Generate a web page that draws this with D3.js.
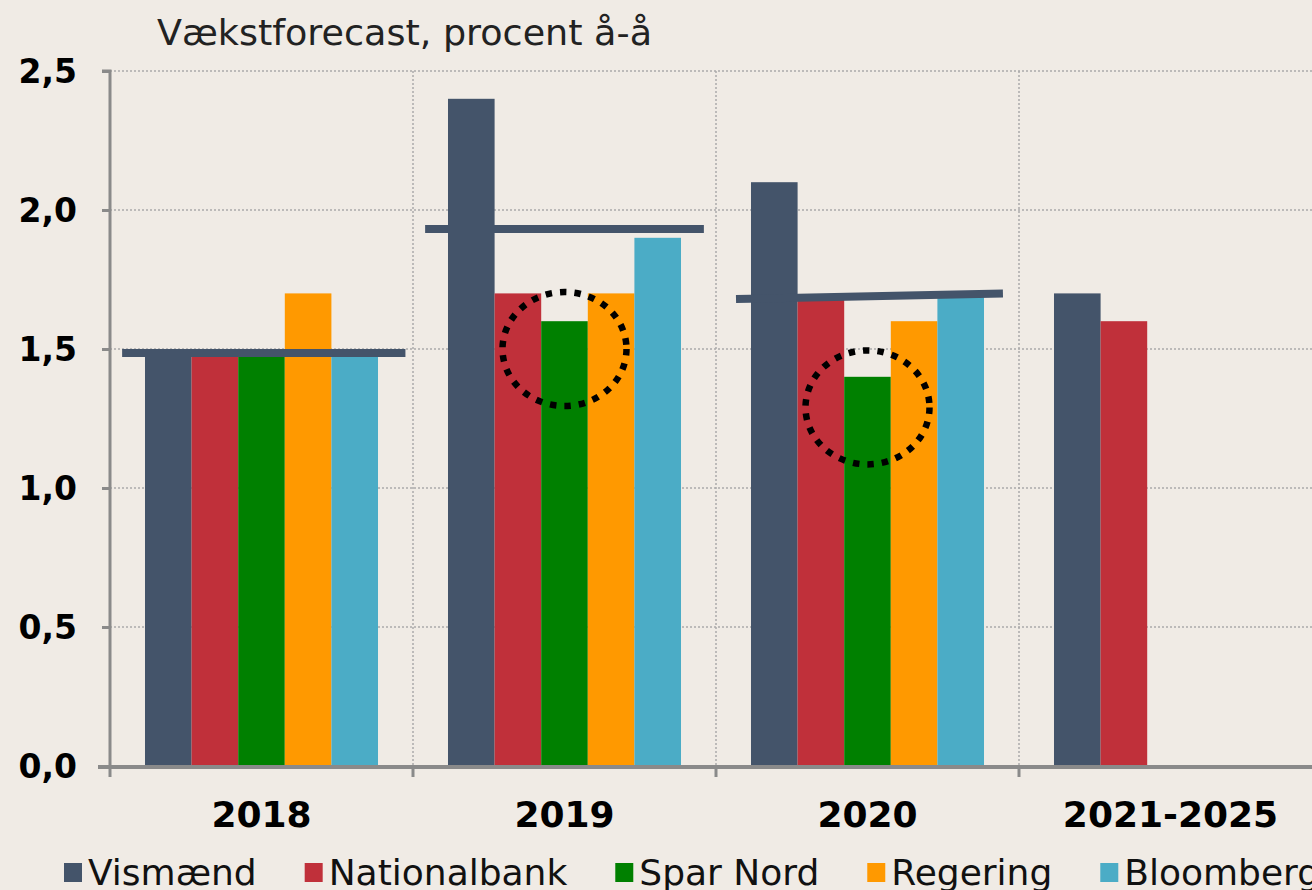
<!DOCTYPE html>
<html><head><meta charset="utf-8">
<script src="https://cdn.jsdelivr.net/npm/d3@7"></script>
<style>
html,body{margin:0;padding:0;background:#F0EBE5;}
svg{display:block;}
text{font-family:"DejaVu Sans",Verdana,sans-serif;}
</style></head>
<body>
<svg id="chart" width="1312" height="890"></svg>
<script>
const categories = ["2018", "2019", "2020", "2021-2025"];
const series = ["Vismænd", "Nationalbank", "Spar Nord", "Regering", "Bloomberg"];
const colors = ["#44546A", "#C0303A", "#008000", "#FF9900", "#4BACC6"];
const vismaend     = [1.5, 2.4, 2.1, 1.7];
const nationalbank = [1.5, 1.7, 1.68, 1.6];
const sparNord     = [1.5, 1.6, 1.4, null];
const regering     = [1.7, 1.7, 1.6, null];
const bloomberg    = [1.5, 1.9, 1.69, null];
const yTicks = [0, 0.5, 1.0, 1.5, 2.0, 2.5];
const title = "Vækstforecast, procent å-å";
// hand-drawn consensus lines (value at left end, value at right end)
const lineCats  = ["2018", "2019", "2020"];
const lineLeft  = [1.486, 1.932, 1.68];
const lineRight = [1.486, 1.932, 1.70];
// dotted highlight circles: category, series, centre value
const circleCats   = ["2019", "2020"];
const circleSeries = ["Spar Nord", "Spar Nord"];
const circleValue  = [1.5, 1.29];

const values = [vismaend, nationalbank, sparNord, regering, bloomberg];
const svg = d3.select("#chart");
const W = 1312, H = 890;
const x0 = 110, x1 = 1322, yTop = 71, yBot = 766;

svg.append("rect").attr("width", W).attr("height", H).attr("fill", "#F0EBE5");

const x = d3.scaleBand().domain(categories).range([x0, x1]).paddingInner(0).paddingOuter(0);
const bw = x.bandwidth();
const xs = d3.scaleBand().domain(series).range([bw * 0.1155, bw * 0.8845]).padding(0);
const y = d3.scaleLinear().domain([0, 2.5]).range([yBot, yTop]);

// gridlines
const grid = svg.append("g");
grid.selectAll("line.h").data(yTicks.filter(d => d > 0)).join("line")
  .attr("x1", x0).attr("x2", W).attr("y1", d => y(d)).attr("y2", d => y(d))
  .attr("stroke", "#aaa").attr("stroke-width", 1.5).attr("stroke-dasharray", "2,2");
grid.selectAll("line.v").data(categories.slice(1)).join("line")
  .attr("x1", d => x(d)).attr("x2", d => x(d)).attr("y1", yTop).attr("y2", yBot)
  .attr("stroke", "#aaa").attr("stroke-width", 1.5).attr("stroke-dasharray", "2,2");

// bars
const barData = [];
categories.forEach((c, ci) => series.forEach((s, si) => {
  const v = values[si][ci];
  if (v != null) barData.push({c, s, v, color: colors[si]});
}));
svg.append("g").selectAll("rect").data(barData).join("rect")
  .attr("x", d => x(d.c) + xs(d.s)).attr("width", xs.bandwidth())
  .attr("y", d => y(d.v)).attr("height", d => y(0) - y(d.v))
  .attr("fill", d => d.color);

// axes
const yAxis = d3.axisLeft(y).tickValues(yTicks).tickSize(8).tickFormat(d => d3.format(".1f")(d).replace(".", ","));
const ya = svg.append("g").attr("transform", `translate(${x0},0)`).call(yAxis);
ya.select(".domain").attr("stroke", "#8a8a8a").attr("stroke-width", 3).attr("d", `M-8,${yTop}H0V${yBot+2}`);
ya.selectAll(".tick line").attr("stroke", "#8a8a8a").attr("stroke-width", 3);
ya.selectAll(".tick text").attr("x", -33).attr("dy", "0.36em")
  .attr("font-size", 33).attr("font-weight", "bold").attr("fill", "#000")
  .attr("font-family", "DejaVu Sans, sans-serif");

const xAxis = d3.axisBottom(x).tickSize(0).tickFormat(d => d);
const xa = svg.append("g").attr("transform", `translate(0,${yBot})`).call(xAxis);
xa.select(".domain").remove();
xa.selectAll(".tick text").attr("y", 61).attr("dy", 0)
  .attr("font-size", 36).attr("font-weight", "bold").attr("fill", "#000")
  .attr("font-family", "DejaVu Sans, sans-serif");
svg.append("line").attr("x1", 98).attr("x2", W).attr("y1", yBot + 1).attr("y2", yBot + 1)
  .attr("stroke", "#8a8a8a").attr("stroke-width", 4);
svg.append("g").selectAll("line").data(categories).join("line")
  .attr("x1", d => x(d)).attr("x2", d => x(d)).attr("y1", yBot).attr("y2", yBot + 11)
  .attr("stroke", "#8a8a8a").attr("stroke-width", 3);

// consensus lines
const lineOff = [[0.04, 0.975], [0.04, 0.96], [0.066, 0.947]];
svg.append("g").selectAll("line").data(lineCats).join("line")
  .attr("x1", (d, i) => x(d) + bw * lineOff[i][0])
  .attr("x2", (d, i) => x(d) + bw * lineOff[i][1])
  .attr("y1", (d, i) => y(lineLeft[i]))
  .attr("y2", (d, i) => y(lineRight[i]))
  .attr("stroke", "#44546A").attr("stroke-width", 8);

// highlight circles
svg.append("g").selectAll("ellipse").data(circleCats).join("ellipse")
  .attr("cx", (d, i) => x(d) + xs(circleSeries[i]) + xs.bandwidth() / 2)
  .attr("cy", (d, i) => y(circleValue[i]))
  .attr("rx", 62).attr("ry", 57)
  .attr("fill", "none").attr("stroke", "#000").attr("stroke-width", 6.5)
  .attr("stroke-dasharray", "6.5,8");

// title
svg.append("text").attr("x", 157).attr("y", 45).text(title)
  .attr("font-size", 36).attr("fill", "#222")
  .attr("textLength", 495).attr("lengthAdjust", "spacingAndGlyphs");

// legend
const lg = svg.append("g");
let lx = 64;
series.forEach((s, i) => {
  lg.append("rect").attr("x", lx).attr("y", 863).attr("width", 18).attr("height", 19).attr("fill", colors[i]);
  const t = lg.append("text").attr("x", lx + 24).attr("y", 885).text(s)
    .attr("font-size", 36).attr("fill", "#111");
  lx += 24 + t.node().getComputedTextLength() + 48;
});
</script>
</body></html>
